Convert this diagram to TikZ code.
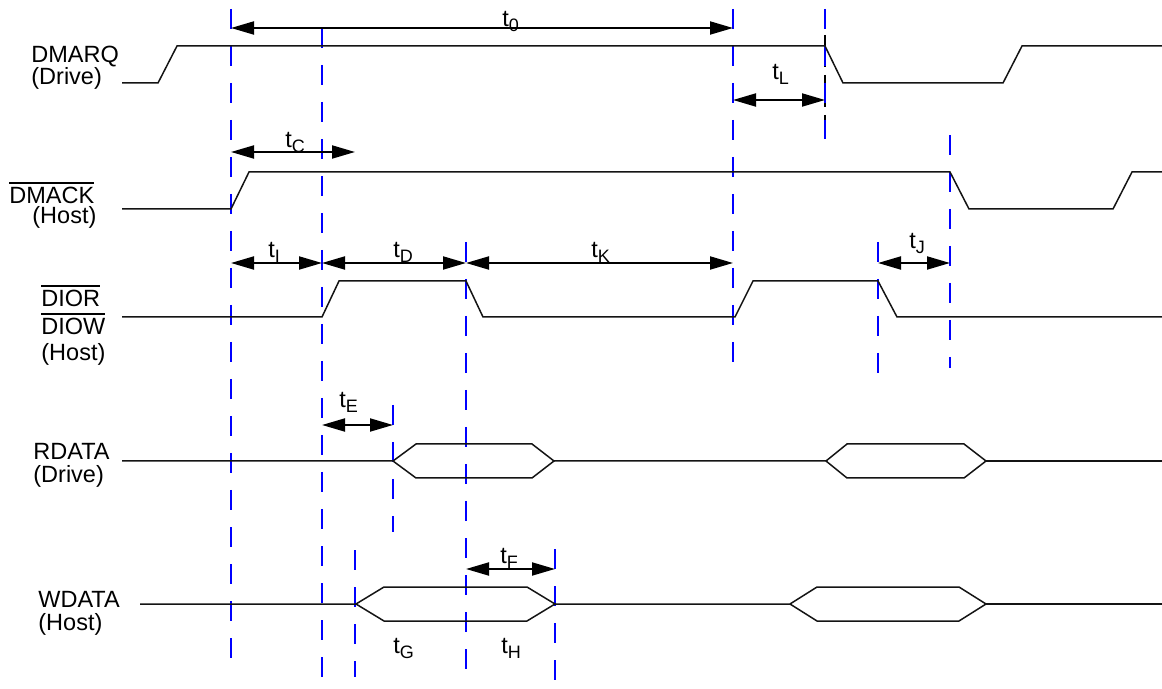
\documentclass[tikz,border=0pt]{standalone}
\usepackage{fontspec}
\setmainfont{Liberation Sans}
\usetikzlibrary{arrows.meta}
\definecolor{markblue}{RGB}{0,0,255}
\definecolor{wave}{RGB}{20,20,20}
\newcommand{\tm}[1]{t\raisebox{-2.5pt}{\fontsize{9}{9}\selectfont #1}}
\newcommand{\barsig}[1]{\vbox{\hrule height 0.7pt\kern 2pt\hbox{#1}}}

\begin{document}
\begin{tikzpicture}[x=0.5pt, y=-0.5pt,
    sig/.style={line width=0.75pt, wave},
    marker/.style={markblue, line width=1pt, dash pattern=on 10pt off 8.5pt},
    dim/.style={line width=1pt, {Triangle[length=11.5pt,width=6.5pt]}-{Triangle[length=11.5pt,width=6.5pt]}},
    lbl/.style={anchor=base west, inner sep=0pt, font=\fontsize{11.75}{12}\selectfont}]
      \useasboundingbox (0,0) rectangle (1162,689);

      % Marker positions
      \coordinate (mAck) at (231,0);
      \coordinate (mRd) at (322,0);
      \coordinate (mWData) at (355,0);
      \coordinate (mRData) at (393,0);
      \coordinate (mRdEnd) at (466,0);
      \coordinate (mWEnd) at (555,0);
      \coordinate (mRd2) at (733,0);
      \coordinate (mReq) at (825,0);
      \coordinate (mRdEnd2) at (878,0);
      \coordinate (mAckEnd) at (950,0);

      % Marker lines
      \draw[black, line width=0.7pt, dash pattern=on 6pt off 4pt, dash phase=-3pt] (mReq |- 0,9) -- (mReq |- 0,139);
      \draw[marker] (mAck |- 0,9) -- (mAck |- 0,672);
      \draw[marker] (mRd |- 0,28) -- (mRd |- 0,689);
      \draw[marker] (mWData |- 0,550) -- (mWData |- 0,677);
      \draw[marker] (mRData |- 0,405) -- (mRData |- 0,532);
      \draw[marker] (mRdEnd |- 0,242) -- (mRdEnd |- 0,675);
      \draw[marker] (mWEnd |- 0,549) -- (mWEnd |- 0,680);
      \draw[marker] (mRd2 |- 0,9) -- (mRd2 |- 0,375);
      \draw[marker] (mReq |- 0,9) -- (mReq |- 0,139);
      \draw[marker] (mRdEnd2 |- 0,242) -- (mRdEnd2 |- 0,373);
      \draw[marker] (mAckEnd |- 0,135) -- (mAckEnd |- 0,368);

      % Signals
      \draw[sig] (122,83) -- (158,83) -- (177,46) -- (825,46) -- (843,83) -- (1003,83) -- (1022,46) -- (1162,46);
      \draw[sig] (122,209) -- (231,209) -- (249,172) -- (950,172) -- (969,209) -- (1113,209) -- (1132,172) -- (1162,172);
      \draw[sig] (122,317) -- (322,317) -- (339,281) -- (466,281) -- (483,317) -- (735,317) -- (753,281) -- (878,281) -- (897,317) -- (1162,317);
      \draw[sig] (122,461) -- (393,461) -- (416,444) -- (532,444) -- (554,461) -- (532,478) -- (416,478) -- (393,461);
      \draw[sig] (554,461) -- (826,461) -- (847,444) -- (964,444) -- (986,461) -- (964,478) -- (847,478) -- (826,461);
      \draw[sig] (986,461) -- (1162,461);
      \draw[sig] (140,604) -- (356,604) -- (384,587) -- (527,587) -- (555,604) -- (527,621) -- (384,621) -- (356,604);
      \draw[sig] (555,604) -- (790,604) -- (817,587) -- (959,587) -- (986,604) -- (959,621) -- (817,621) -- (790,604);
      \draw[sig] (986,604) -- (1162,604);

      % Signal names
      \node[lbl] (dmarq) at (31,63) {DMARQ};
      \node[lbl] (dmarqsrc) at (31,85) {(Drive)};
      \node[lbl] (dmack) at (9,204) {\barsig{DMACK}};
      \node[lbl] (dmacksrc) at (32,224) {(Host)};
      \node[lbl] (dior) at (41,307) {\barsig{DIOR}};
      \node[lbl] (diow) at (41,335) {\barsig{DIOW}};
      \node[lbl] (diorsrc) at (41,361) {(Host)};
      \node[lbl] (rdata) at (33,459) {RDATA};
      \node[lbl] (rdatasrc) at (33,482) {(Drive)};
      \node[lbl] (wdata) at (38,607) {WDATA};
      \node[lbl] (wdatasrc) at (38,630) {(Host)};

      % Timings
      \draw[dim] (mAck |- 0,28) -- (mRd2 |- 0,28);
      \draw[dim] (mAck |- 0,152) -- (mWData |- 0,152);
      \draw[dim] (mRd2 |- 0,100) -- (mReq |- 0,100);
      \draw[dim] (mAck |- 0,263) -- (mRd |- 0,263);
      \draw[dim] (mRd |- 0,263) -- (mRdEnd |- 0,263);
      \draw[dim] (mRdEnd |- 0,263) -- (mRd2 |- 0,263);
      \draw[dim] (mRdEnd2 |- 0,263) -- (mAckEnd |- 0,263);
      \draw[dim] (mRd |- 0,425) -- (mRData |- 0,425);
      \draw[dim] (mRdEnd |- 0,569) -- (mWEnd |- 0,569);

      % Timing labels
      \node[lbl] (t0) at (502,27) {\tm{0}};
      \node[lbl] (tc) at (285,148) {\tm{C}};
      \node[lbl] (tl) at (772,80) {\tm{L}};
      \node[lbl] (ti) at (268,258) {\tm{I}};
      \node[lbl] (td) at (393,258) {\tm{D}};
      \node[lbl] (tk) at (591,258) {\tm{K}};
      \node[lbl] (tj) at (909,249) {\tm{J}};
      \node[lbl] (te) at (339,408) {\tm{E}};
      \node[lbl] (tf) at (500,563) {\tm{F}};
      \node[lbl] (tg) at (393,653) {\tm{G}};
      \node[lbl] (th) at (501,653) {\tm{H}};
    \end{tikzpicture}
\end{document}
